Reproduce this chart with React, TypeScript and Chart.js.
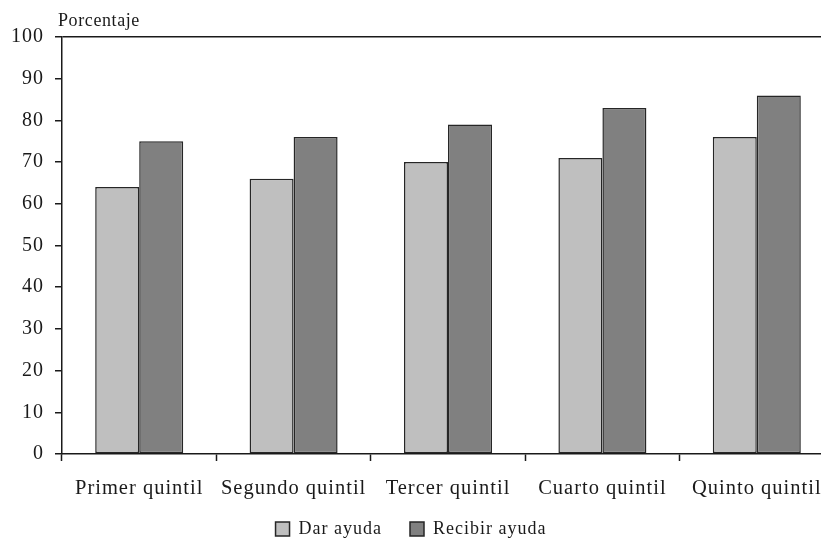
import React, { useEffect, useRef } from "react";
import { Chart, registerables } from "chart.js";

Chart.register(...registerables);

const categories = ["Primer quintil", "Segundo quintil", "Tercer quintil", "Cuarto quintil", "Quinto quintil"];
const darAyuda = [64, 66, 70, 71, 76];
const recibirAyuda = [75, 76, 79, 83, 86];
const seriesNames = ["Dar ayuda", "Recibir ayuda"];
const yTitle = "Porcentaje";

const FONT = "'Liberation Serif', 'DejaVu Serif', serif";

export default function App() {
  const ref = useRef<HTMLCanvasElement | null>(null);

  useEffect(() => {
    if (!ref.current) return;
    const extras = {
      id: "extras",
      beforeUpdate(chart: any) {
        chart.ctx.letterSpacing = "1px";
      },
      afterLayout(chart: any) {
        const lg = chart.legend;
        if (lg) {
          lg.left -= 6;
          lg.right -= 6;
          lg.top = 492;
          lg.bottom = 540;
          lg.height = 48;
        }
      },
      beforeDraw(chart: any) {
        chart.ctx.letterSpacing = "1px";
      },
      afterDraw(chart: any) {
        const ctx = chart.ctx;
        const a = chart.chartArea;
        ctx.save();
        ctx.letterSpacing = "0.6px";
        ctx.fillStyle = "#1a1a1a";
        ctx.font = `18px ${FONT}`;
        ctx.textAlign = "left";
        ctx.textBaseline = "middle";
        ctx.fillText(yTitle, a.left - 4, a.top - 16);
        ctx.restore();
      },
    };
    const chart = new Chart(ref.current, {
      type: "bar",
      data: {
        labels: categories,
        datasets: [
          {
            label: seriesNames[0],
            data: darAyuda,
            backgroundColor: "#bfbfbf",
            borderColor: "#262626",
            borderWidth: 1.5,
            borderSkipped: false,
            categoryPercentage: 0.57,
            barPercentage: 1,
          },
          {
            label: seriesNames[1],
            data: recibirAyuda,
            backgroundColor: "#808080",
            borderColor: "#262626",
            borderWidth: 1.5,
            borderSkipped: false,
            categoryPercentage: 0.57,
            barPercentage: 1,
          },
        ],
      },
      options: {
        responsive: false,
        animation: false,
        layout: { padding: { top: 37, left: 0, right: 10, bottom: 0 } },
        plugins: {
          tooltip: { enabled: false },
          legend: {
            position: "bottom",
            maxHeight: 26,
            labels: {
              boxWidth: 14,
              boxHeight: 14,
              padding: 28,
              color: "#1a1a1a",
              font: { family: FONT, size: 18 },
            },
          },
        },
        scales: {
          x: {
            offset: true,
            grid: {
              offset: true,
              drawOnChartArea: false,
              drawTicks: true,
              tickLength: 7,
              tickColor: "#1a1a1a",
              tickWidth: 1.5,
            },
            border: { display: true, color: "#1a1a1a", width: 1.5 },
            ticks: {
              color: "#1a1a1a",
              padding: 15,
              font: { family: FONT, size: 20.5 },
              maxRotation: 0,
              autoSkip: false,
            },
            afterFit(scale: any) {
              scale.height = 60;
            },
          },
          y: {
            min: 0,
            max: 100,
            ticks: {
              stepSize: 10,
              color: "#1a1a1a",
              padding: 11,
              font: { family: FONT, size: 20 },
            },
            grid: {
              drawOnChartArea: true,
              drawTicks: true,
              tickLength: 7,
              color: (c: any) => (c.tick && c.tick.value === 100 ? "#1a1a1a" : "rgba(0,0,0,0)"),
              tickColor: "#1a1a1a",
              lineWidth: 1.5,
              tickWidth: 1.5,
            },
            border: { display: true, color: "#1a1a1a", width: 1.5 },
            afterFit(scale: any) {
              scale.width = 62;
            },
          },
        },
      },
      plugins: [extras],
    });
    return () => chart.destroy();
  }, []);

  return (
    <div style={{ position: "fixed", left: 0, top: 0, width: 821, height: 540, overflow: "hidden", background: "#fff" }}>
      <canvas ref={ref} width={844} height={540} style={{ display: "block", width: 844, height: 540 }} />
    </div>
  );
}
